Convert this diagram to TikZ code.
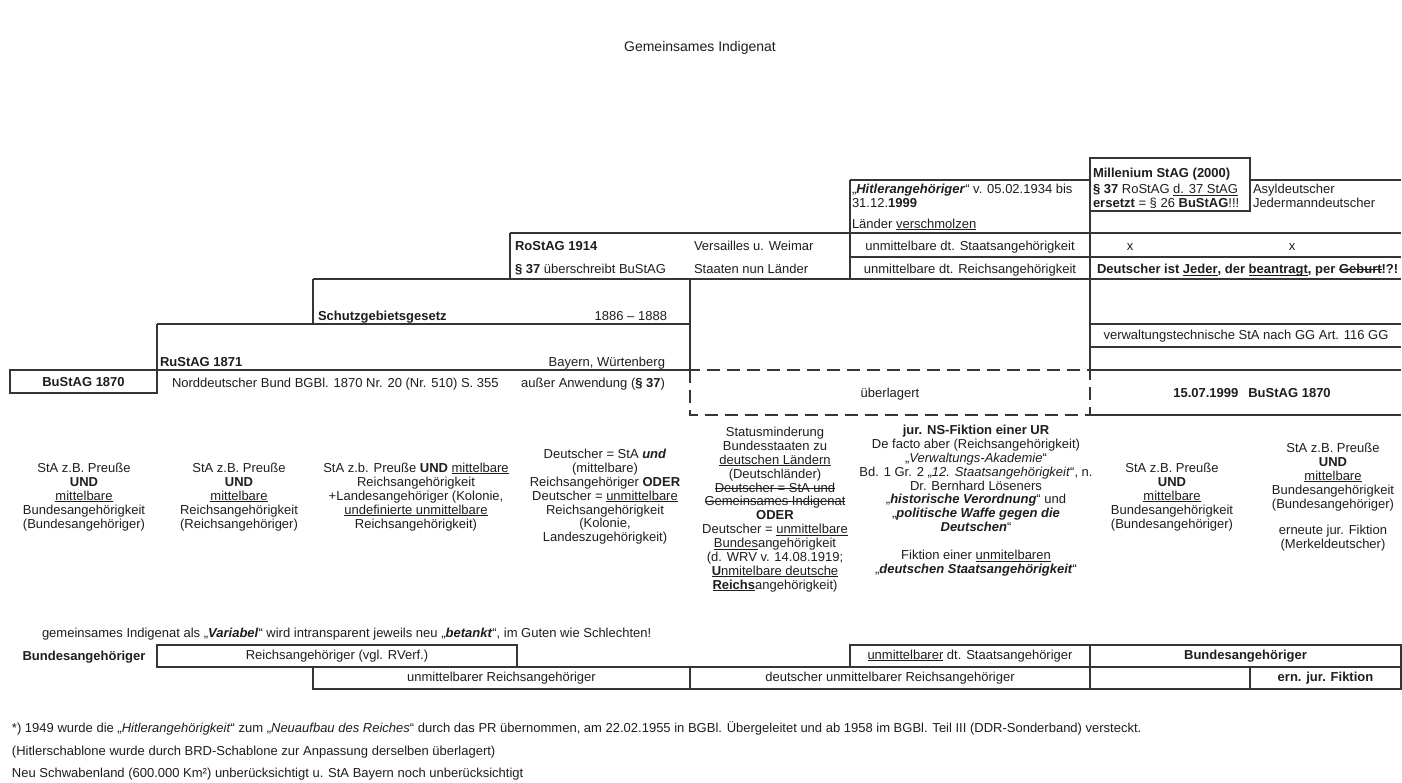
\documentclass[tikz,border=0pt]{standalone}
\usepackage{fontspec}
\setmainfont{Liberation Sans}
\newsavebox{\mybx}
\newcommand{\myul}[1]{\sbox{\mybx}{#1}\rlap{\rule[-1.9pt]{\wd\mybx}{0.9pt}}\usebox{\mybx}}
\newcommand{\myso}[1]{\sbox{\mybx}{#1}\rlap{\rule[3.6pt]{\wd\mybx}{0.9pt}}\usebox{\mybx}}
\definecolor{lcol}{HTML}{353535}
\definecolor{tcol}{HTML}{1E1E1E}
\begin{document}
\begin{tikzpicture}[x=1pt,y=-1pt,
  tl/.style={draw=lcol, line width=1.3pt},
  dl/.style={draw=lcol, line width=2pt, dash pattern=on 13pt off 7pt},
  tx/.style={inner sep=0pt, outer sep=0pt, text=tcol, font=\fontsize{13}{13.9}\selectfont},
  tw/.style={tx, anchor=base west},
  te/.style={tx, anchor=base east},
  tm/.style={tx, anchor=base},
  colm/.style={tx, align=center, anchor=north},
  bbox/.style={tl, tx, anchor=north west, minimum height=22pt},
]
\useasboundingbox[fill=white] (0,0) rectangle (1402,783);

% title
\node[tm, font=\fontsize{14}{16}\selectfont] (title) at (700,52) {Gemeinsames Indigenat};

% table lines
\draw[tl] (1090,158) rectangle (1250,211);
\draw[tl] (850,180) -- (1090,180);
\draw[tl] (1250,180) -- (1401,180);
\draw[tl] (850,180) -- (850,279);
\draw[tl] (510,233) -- (1401,233);
\draw[tl] (510,233) -- (510,279);
\draw[tl] (850,257) -- (1401,257);
\draw[tl] (313,279) -- (1401,279);
\draw[tl] (313,279) -- (313,324);
\draw[tl] (1090,211) -- (1090,370);
\draw[tl] (690,279) -- (690,370);
\draw[tl] (157,324) -- (690,324);
\draw[tl] (1090,324) -- (1401,324);
\draw[tl] (1090,347) -- (1401,347);
\draw[tl] (157,324) -- (157,393);
\draw[tl] (157,370) -- (690,370);
\draw[tl] (1090,370) -- (1401,370);
\draw[tl] (1090,415) -- (1401,415);
\draw[tl] (10,370) rectangle (157,393);
\draw[dl] (690,370) rectangle (1090,415);

% top texts
\node[tw] (mil1) at (1093,177.7) {\textbf{Millenium StAG (2000)}};
\node[tw] (mil2) at (1093,193.7) {\textbf{§ 37} RoStAG \myul{d. 37 StAG}};
\node[tw] (mil3) at (1093,207.7) {\textbf{ersetzt} = § 26 \textbf{BuStAG}!!!};
\node[tw] (hit1) at (852,193.7) {„\textbf{\textit{Hitlerangehöriger}}“ v. 05.02.1934 bis};
\node[tw] (hit2) at (852,207.7) {31.12.\textbf{1999}};
\node[tw] (hit3) at (852,228.3) {Länder \myul{verschmolzen}};
\node[tw] (asy1) at (1253,193.7) {Asyldeutscher};
\node[tw] (asy2) at (1253,207.7) {Jedermanndeutscher};
\node[tw] (ros1) at (515,251) {\textbf{RoStAG 1914}};
\node[tw] (ros2) at (515,274) {\textbf{§ 37} überschreibt BuStAG};
\node[tw] (ver1) at (694,251) {Versailles u. Weimar};
\node[tw] (ver2) at (694,274) {Staaten nun Länder};
\node[tm] (ua1) at (970,251) {unmittelbare dt. Staatsangehörigkeit};
\node[tm] (ua2) at (970,274) {unmittelbare dt. Reichsangehörigkeit};
\node[tm] (xa) at (1130,251) {x};
\node[tm] (xb) at (1292,251) {x};
\node[tw] (jed) at (1097,274) {\textbf{Deutscher ist \myul{Jeder}, der \myul{beantragt}, per \myso{Geburt}!?!}};
\node[tw] (sg) at (318,320.7) {\textbf{Schutzgebietsgesetz}};
\node[te] (sgy) at (667,320.7) {1886 – 1888};
\node[tw] (ru) at (160,366.7) {\textbf{RuStAG 1871}};
\node[te] (bay) at (665,366.7) {Bayern, Würtenberg};
\node[tw] (nd) at (172,387.7) {Norddeutscher Bund BGBl. 1870 Nr. 20 (Nr. 510) S. 355};
\node[te] (au) at (665,387.7) {außer Anwendung (\textbf{§ 37})};
\node[tm] (bu) at (83.5,386.7) {\textbf{BuStAG 1870}};
\node[tm] (ueb) at (890,397.2) {überlagert};
\node[tm] (vt) at (1246,340) {verwaltungstechnische StA nach GG Art. 116 GG};
\node[tm] (b15) at (1252,397.2) {\textbf{15.07.1999\hspace{10pt}BuStAG 1870}};

% lower columns
\node[colm] (c1) at (84,463) {StA z.B. Preuße\\\textbf{UND}\\\myul{mittelbare}\\Bundesangehörigkeit\\(Bundesangehöriger)};
\node[colm] (c2) at (239,463) {StA z.B. Preuße\\\textbf{UND}\\\myul{mittelbare}\\Reichsangehörigkeit\\(Reichsangehöriger)};
\node[colm] (c3) at (416,463) {StA z.b. Preuße \textbf{UND} \myul{mittelbare}\\Reichsangehörigkeit\\+Landesangehöriger (Kolonie,\\\myul{undefinierte unmittelbare}\\Reichsangehörigkeit)};
\node[colm] (c4) at (605,449) {Deutscher = StA \textbf{\textit{und}}\\(mittelbare)\\Reichsangehöriger \textbf{ODER}\\Deutscher = \myul{unmittelbare}\\Reichsangehörigkeit\\(Kolonie,\\Landeszugehörigkeit)};
\node[colm] (c5) at (775,427) {Statusminderung\\Bundesstaaten zu\\\myul{deutschen Ländern}\\(Deutschländer)\\\myso{Deutscher = StA und}\\\myso{Gemeinsames Indigenat}\\\textbf{ODER}\\Deutscher = \myul{unmittelbare}\\\myul{Bundes}angehörigkeit\\(d. WRV v. 14.08.1919;\\\myul{\textbf{U}nmitelbare deutsche}\\\myul{\textbf{Reichs}}angehörigkeit)};
\node[colm] (c6) at (976,425) {\textbf{jur. NS-Fiktion einer UR}\\De facto aber (Reichsangehörigkeit)\\„\textit{Verwaltungs-Akademie}“\\Bd. 1 Gr. 2 „\textit{12. Staatsangehörigkeit}“, n.\\Dr. Bernhard Löseners\\„\textbf{\textit{historische Verordnung}}“ und\\„\textbf{\textit{politische Waffe gegen die}}\\\textbf{\textit{Deutschen}}“\\[13.9pt]Fiktion einer \myul{unmitelbaren}\\„\textbf{\textit{deutschen Staatsangehörigkeit}}“};
\node[colm] (c7) at (1172,463) {StA z.B. Preuße\\\textbf{UND}\\\myul{mittelbare}\\Bundesangehörigkeit\\(Bundesangehöriger)};
\node[colm] (c8) at (1333,443) {StA z.B. Preuße\\\textbf{UND}\\\myul{mittelbare}\\Bundesangehörigkeit\\(Bundesangehöriger)\\[13pt]erneute jur. Fiktion\\(Merkeldeutscher)};

% bottom
\node[tw] (gem) at (42,637.7) {gemeinsames Indigenat als „\textbf{\textit{Variabel}}“ wird intransparent jeweils neu „\textbf{\textit{betankt}}“, im Guten wie Schlechten!};
\node[tm] (bun) at (84,660.7) {\textbf{Bundesangehöriger}};
\node[bbox, minimum width=360pt] (r1a) at (157,645) {Reichsangehöriger (vgl. RVerf.)};
\node[bbox, minimum width=240pt] (r1b) at (850,645) {\myul{unmittelbarer} dt. Staatsangehöriger};
\node[bbox, minimum width=311pt] (r1c) at (1090,645) {\textbf{Bundesangehöriger}};
\node[bbox, minimum width=377pt] (r2a) at (313,667) {unmittelbarer Reichsangehöriger};
\node[bbox, minimum width=400pt] (r2b) at (690,667) {deutscher unmittelbarer Reichsangehöriger};
\node[bbox, minimum width=160pt] (r2c) at (1090,667) {};
\node[bbox, minimum width=151pt] (r2d) at (1250,667) {\textbf{ern. jur. Fiktion}};

% footnotes
\node[tw] (fn1) at (12,732.7) {*) 1949 wurde die „\textit{Hitlerangehörigkeit}“ zum „\textit{Neuaufbau des Reiches}“ durch das PR übernommen, am 22.02.1955 in BGBl. Übergeleitet und ab 1958 im BGBl. Teil III (DDR-Sonderband) versteckt.};
\node[tw] (fn2) at (12,755.7) {(Hitlerschablone wurde durch BRD-Schablone zur Anpassung derselben überlagert)};
\node[tw] (fn3) at (12,777.7) {Neu Schwabenland (600.000 Km²) unberücksichtigt u. StA Bayern noch unberücksichtigt};
\end{tikzpicture}
\end{document}
